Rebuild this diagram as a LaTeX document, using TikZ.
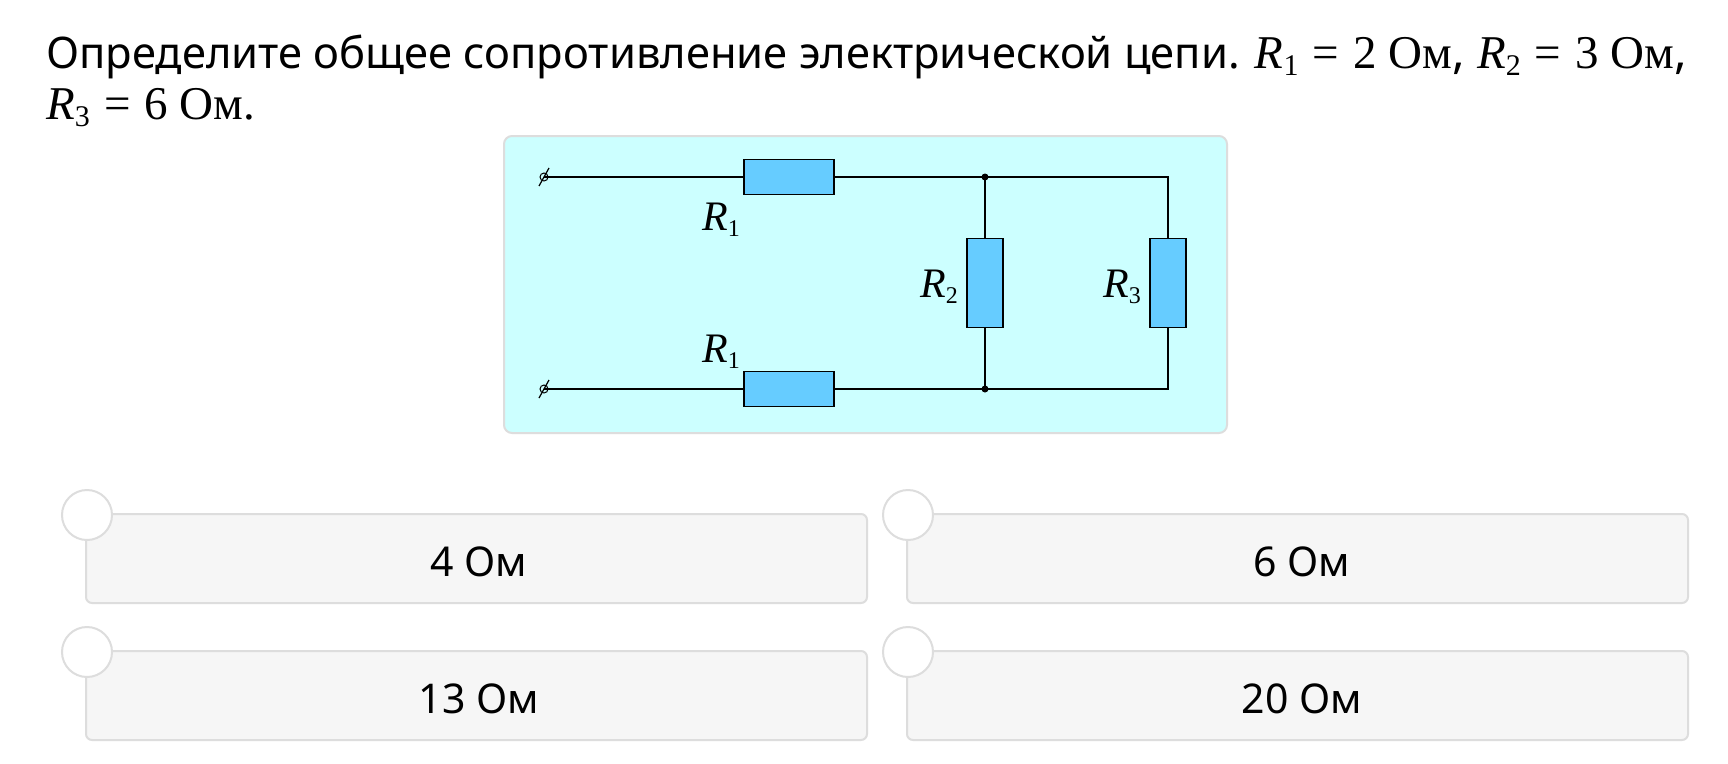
\documentclass[tikz,border=0pt]{standalone}
\usepackage{fontspec}
\usetikzlibrary{calc}
\setmainfont{Noto Sans}
\newfontfamily\ser{Liberation Serif}
\newcommand{\Rr}[1]{{\ser\itshape R}{\ser\fontsize{30}{30}\selectfont\raisebox{-7pt}{#1}}}
\newcommand{\Rs}[1]{{\ser\itshape R}{\ser\fontsize{24}{24}\selectfont\raisebox{-6pt}{#1}}}
\newcommand{\Eq}{\hspace{0.3em}{\ser=}\hspace{0.3em}}
\definecolor{panel}{HTML}{CCFFFF}
\definecolor{res}{HTML}{66CCFF}
\definecolor{boxf}{HTML}{F6F6F6}
\definecolor{boxd}{HTML}{DDDDDD}
\begin{document}
\begin{tikzpicture}[x=1pt,y=-1pt,
  resbox/.style={draw=black,fill=res,line width=1.3pt,minimum width=#1},
  wire/.style={line width=1.3pt},
  ans/.style={draw=boxd,fill=boxf,line width=2pt,rounded corners=6pt},
  tab/.style={draw=boxd,fill=white,line width=2pt,circle,minimum size=50pt,inner sep=0pt},
  lbl/.style={font=\fontsize{41}{41}\selectfont},
  rl/.style={font=\fontsize{42}{42}\selectfont}]
\useasboundingbox (0,0) rectangle (1728,763);
\fill[white] (0,0) rectangle (1728,763);
% title
\node[anchor=base west,inner sep=0pt,font=\fontsize{43.5}{48}\selectfont] (t1) at (46,68)
 {Определите общее сопротивление электрической цепи. {\fontsize{47}{47}\selectfont\Rr{1}\Eq{\ser 2 Ом}, \Rr{2}\Eq{\ser 3 Ом},}};
\node[anchor=base west,inner sep=0pt,font=\fontsize{47}{48}\selectfont] (t2) at (46,119)
 {\Rr{3}\Eq{\ser 6 Ом.}};
% panel
\node[draw=boxd,fill=panel,line width=2pt,rounded corners=8pt,minimum width=723pt,minimum height=297pt,anchor=north west] (pan) at (503,135) {};
% resistors
\node[resbox=90pt,minimum height=35pt] (r1t) at (789,177) {};
\node[resbox=90pt,minimum height=35pt] (r1b) at (789,389) {};
\node[resbox=36pt,minimum height=89pt] (r2) at (985,283) {};
\node[resbox=36pt,minimum height=89pt] (r3) at (1168,283) {};
\coordinate (a) at (544,177); \coordinate (b) at (544,389);
\coordinate (jt) at (985,177); \coordinate (jb) at (985,389);
\coordinate (ct) at (1168,177); \coordinate (cb) at (1168,389);
\draw[wire] (a) -- (r1t.west) (r1t.east) -- (jt) -- (ct) -- (r3.north) (r3.south) -- (cb) -- (jb) -- (r1b.east) (r1b.west) -- (b);
\draw[wire] (jt) -- (r2.north) (r2.south) -- (jb);
\fill (jt) circle (3.5pt) (jb) circle (3.5pt);
\foreach \p in {a,b}{\draw[line width=1pt] (\p) circle (4pt); \draw[line width=1.2pt] ($(\p)+(-5,9)$) -- ($(\p)+(5,-9)$);}
\node[rl] (l1) at (721,220) {\Rs{1}};
\node[rl] (l1b) at (721,352) {\Rs{1}};
\node[rl] (l2) at (939,287) {\Rs{2}};
\node[rl] (l3) at (1122,287) {\Rs{3}};
% answers
\node[ans,minimum width=781pt,minimum height=89pt,anchor=north west] (b1) at (85,513) {};
\node[ans,minimum width=781pt,minimum height=89pt,anchor=north west] (b2) at (906,513) {};
\node[ans,minimum width=781pt,minimum height=89pt,anchor=north west] (b3) at (85,650) {};
\node[ans,minimum width=781pt,minimum height=89pt,anchor=north west] (b4) at (906,650) {};
\node[tab] (c1) at (87,515) {}; \node[tab] (c2) at (908,515) {};
\node[tab] (c3) at (87,652) {}; \node[tab] (c4) at (908,652) {};
\node[lbl] at (479,562) {4 Ом};
\node[lbl] at (1302,562) {6 Ом};
\node[lbl] at (479,699) {13 Ом};
\node[lbl] at (1302,699) {20 Ом};
\end{tikzpicture}
\end{document}
